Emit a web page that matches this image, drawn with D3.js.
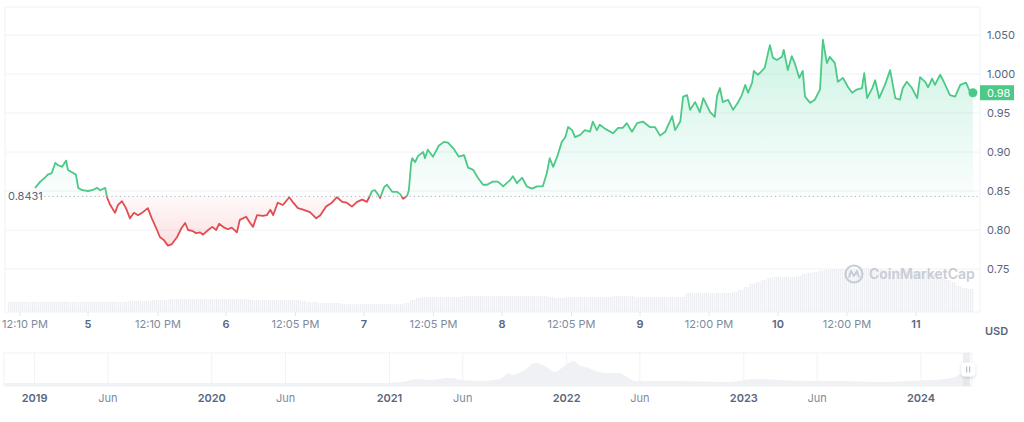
<!DOCTYPE html>
<html>
<head>
<meta charset="utf-8">
<script src="https://cdn.jsdelivr.net/npm/d3@7"></script>
<style>
  html, body { margin: 0; padding: 0; background: #fff; }
  svg { display: block; font-family: Inter, "Noto Sans", sans-serif; }
</style>
</head>
<body>
<svg id="chart" width="1024" height="422"></svg>
<script>
// 基准时间：第 4 天 00:00，价格数据用“距基准的小时数”表示
const baseDate = new Date(2024, 3, 4);
const refPrice = 0.8431;

// 价格 [小时, USD]
const priceSeries = [
  [14.8,0.854],[15.7,0.862],[16.0,0.864],[16.5,0.867],[17.0,0.871],[17.7,0.873],[18.3,0.886],[18.8,0.883],
  [19.5,0.881],[20.2,0.889],[20.5,0.877],[21.2,0.874],[21.9,0.871],[22.3,0.854],[23.0,0.851],[24.0,0.850],
  [24.7,0.851],[25.6,0.854],[26.1,0.851],[27.0,0.854],[27.3,0.842],[27.8,0.833],[28.7,0.822],[29.2,0.832],
  [29.9,0.837],[30.6,0.828],[31.3,0.815],[32.0,0.822],[32.7,0.819],[33.4,0.822],[34.4,0.828],[35.1,0.815],
  [36.0,0.800],[36.5,0.791],[37.2,0.787],[37.9,0.780],[38.6,0.782],[39.5,0.791],[40.3,0.803],[40.9,0.809],
  [41.4,0.800],[42.1,0.799],[42.8,0.796],[43.5,0.797],[44.0,0.794],[44.9,0.800],[45.6,0.804],[46.3,0.800],
  [46.8,0.808],[47.7,0.803],[48.3,0.801],[49.0,0.803],[49.9,0.797],[50.4,0.813],[51.5,0.817],[52.2,0.809],
  [52.7,0.804],[53.4,0.819],[54.4,0.818],[55.1,0.819],[55.7,0.826],[56.2,0.819],[57.0,0.835],[57.9,0.832],
  [59.0,0.842],[59.7,0.835],[60.5,0.828],[61.4,0.826],[62.6,0.823],[63.7,0.815],[64.4,0.819],[65.4,0.830],
  [66.4,0.835],[67.3,0.842],[68.2,0.836],[69.0,0.835],[69.9,0.830],[70.8,0.836],[71.7,0.839],[72.5,0.836],
  [72.9,0.842],[73.4,0.850],[73.9,0.851],[74.4,0.846],[74.8,0.841],[75.5,0.855],[76.0,0.858],[76.9,0.849],
  [77.7,0.849],[78.3,0.846],[78.8,0.840],[79.5,0.844],[79.8,0.851],[80.2,0.886],[80.4,0.892],[80.9,0.887],
  [81.4,0.895],[82.3,0.900],[82.6,0.892],[83.1,0.903],[84.0,0.894],[85.0,0.908],[85.9,0.913],[86.6,0.912],
  [87.5,0.905],[88.5,0.894],[89.4,0.896],[90.1,0.880],[91.0,0.877],[91.8,0.867],[92.7,0.858],[93.4,0.858],
  [94.4,0.862],[95.3,0.862],[96.2,0.856],[97.4,0.864],[97.9,0.869],[98.6,0.860],[99.5,0.867],[100.3,0.856],
  [101.2,0.853],[102.1,0.856],[103.1,0.856],[103.8,0.873],[104.3,0.892],[104.9,0.881],[105.6,0.894],[106.4,0.913],
  [107.0,0.919],[107.5,0.932],[108.2,0.928],[108.7,0.919],[109.6,0.922],[110.4,0.928],[111.3,0.926],[111.8,0.939],
  [112.5,0.928],[113.0,0.935],[113.9,0.930],[115.3,0.924],[116.2,0.931],[117.0,0.931],[117.7,0.937],[118.6,0.926],
  [119.5,0.937],[120.5,0.939],[121.7,0.932],[122.6,0.932],[123.5,0.921],[124.4,0.926],[125.6,0.946],[126.1,0.928],
  [127.0,0.939],[127.5,0.971],[128.2,0.973],[128.7,0.954],[129.6,0.964],[130.4,0.951],[131.0,0.969],[132.2,0.951],
  [133.0,0.945],[133.4,0.972],[133.9,0.982],[134.4,0.964],[135.3,0.967],[136.2,0.954],[137.0,0.963],[137.7,0.973],
  [138.3,0.986],[138.8,0.976],[139.5,0.989],[139.8,1.004],[140.5,0.999],[141.2,1.004],[141.7,1.008],[142.3,1.028],
  [142.6,1.037],[143.1,1.021],[143.8,1.018],[144.7,1.022],[145.0,1.031],[145.7,1.005],[146.4,1.023],[147.0,1.012],
  [147.7,0.995],[148.3,1.004],[148.7,0.971],[149.6,0.963],[150.4,0.967],[151.3,0.980],[151.8,1.044],[152.5,1.014],
  [153.0,1.022],[153.9,1.014],[154.4,0.990],[155.3,0.995],[156.2,0.983],[156.9,0.976],[157.7,0.980],[158.6,0.982],
  [159.0,1.001],[159.5,0.969],[160.4,0.982],[160.9,0.992],[161.6,0.969],[162.6,0.986],[163.5,1.005],[164.4,0.969],
  [165.2,0.967],[165.7,0.982],[166.4,0.990],[167.3,0.982],[168.2,0.969],[168.7,0.996],[169.6,0.990],[170.1,0.983],
  [170.8,0.994],[171.3,0.986],[172.2,0.999],[172.7,0.992],[173.9,0.973],[174.8,0.971],[175.7,0.986],[176.7,0.989],
  [177.4,0.977],[177.9,0.976]
];

// 成交量（每小时一根，从第 10 小时开始，单位 M）
const volumeStartHour = 10;
const volumeHourly = [
  10,10,10,10,10,10,10,10,10,10,10,10,10,10,
  10,10,10,10,10,10,10,11,11,11,11,
  12,12,12,13,13,13,13,13,13,13,13,13,13,
  13,13,13,13,12,12,12,12,12,12,12,12,12,
  11,10,10,9,9,9,9,
  8,8,8,8,8,8,8,8,8,8,8,9,
  12,14,15,15,
  15,15,15,15,15,16,16,16,16,16,16,16,
  16,16,16,16,16,16,16,16,15,14,14,15,
  15,15,15,15,15,15,15,16,16,16,16,15,
  15,15,15,15,15,15,15,15,
  19,19,19,19,19,19,19,19,
  20,22,25,28,30,32,
  34,35,35,35,35,36,38,
  39,40,41,42,43,
  43,43,43,43,43,44,43,43,42,42,
  42,42,42,41,41,41,40,39,
  35,32,30,26,24,23
];

const yTicks = [0.75, 0.80, 0.85, 0.90, 0.95, 1.00, 1.05];
const yTickLabels = ["0.75", "0.80", "0.85", "0.90", "0.95", "1.000", "1.050"];

const xTickHours = [12.167, 24, 36.167, 48, 60.083, 72, 84.083, 96, 108.083, 120, 132, 144, 156, 168];
const xTickLabels = ["12:10 PM", "5", "12:10 PM", "6", "12:05 PM", "7", "12:05 PM", "8", "12:05 PM", "9", "12:00 PM", "10", "12:00 PM", "11"];

// 底部概览（历史）
const navDates = [
  "2018-11-01","2020-12-15","2021-01-28","2021-02-26","2021-03-31","2021-04-29","2021-05-11","2021-05-26",
  "2021-07-12","2021-08-16","2021-09-06","2021-09-10","2021-10-07","2021-10-27","2021-11-17","2021-12-08",
  "2021-12-22","2022-01-05","2022-01-16","2022-01-26","2022-02-16","2022-03-08","2022-03-29","2022-04-19",
  "2022-05-09","2022-05-22","2022-06-11","2022-08-20","2022-12-01","2023-01-03","2023-02-01","2023-03-14",
  "2023-05-21","2023-07-28","2023-10-06","2023-12-13","2024-01-18","2024-02-19","2024-03-11","2024-03-26",
  "2024-04-10"
];
const navValues = [
  3,3,4,7,6,8,8,6,
  5,7,13,11,16,23,20,14,
  18,23,25,21,18,14,13,13,
  8,5,5,5,4,6,7,6,
  5,5,4,5,6,7,9,13,
  14
];
const navTickDates = ["2019-01-01","2019-06-01","2020-01-01","2020-06-01","2021-01-01","2021-06-01","2022-01-01","2022-06-01","2023-01-01","2023-06-01","2024-01-01"];
const navTickLabels = ["2019","Jun","2020","Jun","2021","Jun","2022","Jun","2023","Jun","2024"];

const COLORS = {
  up: "#16c784",
  upLine: "#4cc986",
  down: "#ea3943",
  downLine: "#e24c50",
  grid: "#f0f2f5",
  text: "#58667e",
  textLight: "#808a9d",
  volume: "#eceef2",
  watermark: "#c8cdd5"
};

const hourToDate = h => new Date(baseDate.getTime() + h * 3600e3);

const plot = { left: 5, right: 980, top: 7, bottom: 312 };
const nav = { left: 4, right: 972, top: 353, bottom: 386 };

const svg = d3.select("#chart");
const defs = svg.append("defs");

// 比例尺
const x = d3.scaleTime()
  .domain([hourToDate(9.565), hourToDate(179.13)])
  .range([plot.left, plot.right]);
const y = d3.scaleLinear()
  .domain([0.75, 1.05])
  .range([269, 35]);
const yVol = d3.scaleLinear()
  .domain([0, 50])
  .range([plot.bottom, plot.bottom - 50]);

const baseY = y(refPrice);

// 渐变与裁剪
const gUp = defs.append("linearGradient").attr("id", "gradUp")
  .attr("gradientUnits", "userSpaceOnUse")
  .attr("x1", 0).attr("x2", 0).attr("y1", y(1.05)).attr("y2", baseY);
gUp.append("stop").attr("offset", 0).attr("stop-color", COLORS.up).attr("stop-opacity", 0.22);
gUp.append("stop").attr("offset", 1).attr("stop-color", COLORS.up).attr("stop-opacity", 0.02);

const gDown = defs.append("linearGradient").attr("id", "gradDown")
  .attr("gradientUnits", "userSpaceOnUse")
  .attr("x1", 0).attr("x2", 0).attr("y1", baseY).attr("y2", y(0.775));
gDown.append("stop").attr("offset", 0).attr("stop-color", COLORS.down).attr("stop-opacity", 0.03);
gDown.append("stop").attr("offset", 1).attr("stop-color", COLORS.down).attr("stop-opacity", 0.17);

defs.append("clipPath").attr("id", "clipUp")
  .append("rect").attr("x", 0).attr("y", 0).attr("width", 1024).attr("height", baseY);
defs.append("clipPath").attr("id", "clipDown")
  .append("rect").attr("x", 0).attr("y", baseY).attr("width", 1024).attr("height", 422 - baseY);

const stripe = defs.append("pattern").attr("id", "volStripe")
  .attr("patternUnits", "userSpaceOnUse").attr("width", 2).attr("height", 10);
stripe.append("rect").attr("width", 1.3).attr("height", 10).attr("fill", COLORS.volume);

// 网格与边框
svg.append("g")
  .selectAll("line")
  .data(yTicks)
  .join("line")
  .attr("x1", plot.left).attr("x2", plot.right)
  .attr("y1", d => y(d)).attr("y2", d => y(d))
  .attr("stroke", COLORS.grid);

svg.append("rect")
  .attr("x", plot.left).attr("y", plot.top)
  .attr("width", plot.right - plot.left).attr("height", plot.bottom - plot.top)
  .attr("fill", "none").attr("stroke", COLORS.grid);

// 成交量柱
const step = x(hourToDate(1)) - x(hourToDate(0));
svg.append("g")
  .selectAll("rect")
  .data(volumeHourly)
  .join("rect")
  .attr("x", (d, i) => x(hourToDate(volumeStartHour + i)))
  .attr("width", step)
  .attr("y", d => yVol(d))
  .attr("height", d => plot.bottom - yVol(d))
  .attr("fill", "url(#volStripe)");

// 水印
const wm = svg.append("g").attr("transform", "translate(854,274)");
wm.append("circle").attr("r", 8.5).attr("fill", "none").attr("stroke", COLORS.watermark).attr("stroke-width", 2.2);
wm.append("path")
  .attr("d", "M-5,3.5 L-3,-3 L0,2 L3,-3 L5,3.5")
  .attr("fill", "none").attr("stroke", COLORS.watermark).attr("stroke-width", 2).attr("stroke-linejoin", "round");
svg.append("text")
  .attr("x", 869).attr("y", 279)
  .attr("font-size", 14).attr("font-weight", 600)
  .attr("fill", COLORS.watermark)
  .text("CoinMarketCap");

// 价格面积与折线
const px = d => x(hourToDate(d[0]));
const area = d3.area().x(px).y0(baseY).y1(d => y(d[1]));
const line = d3.line().x(px).y(d => y(d[1]));

svg.append("path").datum(priceSeries).attr("d", area)
  .attr("fill", "url(#gradUp)").attr("clip-path", "url(#clipUp)");
svg.append("path").datum(priceSeries).attr("d", area)
  .attr("fill", "url(#gradDown)").attr("clip-path", "url(#clipDown)");

// 参考价虚线
svg.append("line")
  .attr("x1", 40).attr("x2", plot.right)
  .attr("y1", baseY).attr("y2", baseY)
  .attr("stroke", "#a7b1c2").attr("stroke-width", 1)
  .attr("stroke-dasharray", "1.2,3");
svg.append("text")
  .attr("x", 8).attr("y", baseY).attr("dy", "0.35em")
  .attr("font-size", 11).attr("fill", COLORS.text)
  .text(d3.format(".4f")(refPrice));

svg.append("path").datum(priceSeries).attr("d", line)
  .attr("fill", "none").attr("stroke", COLORS.upLine).attr("stroke-width", 1.8)
  .attr("stroke-linejoin", "round").attr("clip-path", "url(#clipUp)");
svg.append("path").datum(priceSeries).attr("d", line)
  .attr("fill", "none").attr("stroke", COLORS.downLine).attr("stroke-width", 1.8)
  .attr("stroke-linejoin", "round").attr("clip-path", "url(#clipDown)");

const last = priceSeries[priceSeries.length - 1];
svg.append("circle")
  .attr("cx", px(last)).attr("cy", y(last[1])).attr("r", 4.5)
  .attr("fill", COLORS.upLine);

// Y 轴
svg.append("g")
  .selectAll("text")
  .data(yTicks)
  .join("text")
  .attr("x", 987).attr("y", d => y(d)).attr("dy", "0.35em")
  .attr("font-size", 11).attr("fill", COLORS.text)
  .text((d, i) => yTickLabels[i]);

svg.append("rect")
  .attr("x", 980).attr("y", y(last[1]) - 7.5)
  .attr("width", 34).attr("height", 15)
  .attr("fill", COLORS.upLine);
svg.append("text")
  .attr("x", 987).attr("y", y(last[1])).attr("dy", "0.35em")
  .attr("font-size", 11).attr("fill", "#fff")
  .text(d3.format(".2f")(last[1]));

// X 轴（首个标签不超出左边缘）
const xAxis = svg.append("g");
xAxis.selectAll("line")
  .data(xTickHours)
  .join("line")
  .attr("x1", h => x(hourToDate(h))).attr("x2", h => x(hourToDate(h)))
  .attr("y1", plot.bottom).attr("y2", plot.bottom + 4)
  .attr("stroke", "#e3e6eb");
xAxis.selectAll("text")
  .data(xTickHours)
  .join("text")
  .attr("x", h => Math.max(x(hourToDate(h)), 25)).attr("y", 324).attr("dy", "0.35em")
  .attr("text-anchor", "middle")
  .attr("font-size", 11)
  .attr("font-weight", (h, i) => xTickLabels[i].includes("M") ? 400 : 600)
  .attr("fill", (h, i) => xTickLabels[i].includes("M") ? COLORS.textLight : COLORS.text)
  .text((h, i) => xTickLabels[i]);

svg.append("text")
  .attr("x", 985).attr("y", 331).attr("dy", "0.35em")
  .attr("font-size", 11).attr("font-weight", 600).attr("fill", COLORS.text)
  .text("USD");

// 底部概览
const parse = d3.timeParse("%Y-%m-%d");
const xNav = d3.scaleTime()
  .domain([parse("2018-11-01"), parse("2024-04-11")])
  .range([nav.left + 1, nav.right - 2]);
const yNav = d3.scaleLinear().domain([0, 30]).range([nav.bottom, nav.bottom - 30]);

svg.append("rect")
  .attr("x", nav.left).attr("y", nav.top)
  .attr("width", nav.right - nav.left).attr("height", nav.bottom - nav.top)
  .attr("fill", "#fff").attr("stroke", COLORS.grid);

svg.append("g")
  .selectAll("line")
  .data(navTickDates)
  .join("line")
  .attr("x1", d => xNav(parse(d))).attr("x2", d => xNav(parse(d)))
  .attr("y1", nav.top).attr("y2", nav.bottom)
  .attr("stroke", COLORS.grid);

svg.append("path")
  .datum(navDates.map((d, i) => [parse(d), navValues[i]]))
  .attr("d", d3.area().x(d => xNav(d[0])).y0(nav.bottom).y1(d => yNav(d[1])).curve(d3.curveMonotoneX))
  .attr("fill", "#eff1f5");

svg.append("g")
  .selectAll("text")
  .data(navTickDates)
  .join("text")
  .attr("x", d => xNav(parse(d))).attr("y", 398).attr("dy", "0.35em")
  .attr("text-anchor", "middle")
  .attr("font-size", 11)
  .attr("font-weight", (d, i) => navTickLabels[i] === "Jun" ? 400 : 600)
  .attr("fill", (d, i) => navTickLabels[i] === "Jun" ? COLORS.textLight : COLORS.text)
  .text((d, i) => navTickLabels[i]);

// 选择窗口与手柄
const selX0 = xNav(hourToDate(14.8));
const selX1 = xNav(hourToDate(177.9));
svg.append("rect")
  .attr("x", selX0 - 4).attr("y", nav.top)
  .attr("width", selX1 - selX0 + 4).attr("height", nav.bottom - nav.top)
  .attr("fill", "#dfe2e8").attr("opacity", 0.6);

const shadow = defs.append("filter").attr("id", "handleShadow")
  .attr("x", "-50%").attr("y", "-50%").attr("width", "200%").attr("height", "200%");
shadow.append("feDropShadow").attr("dx", 0).attr("dy", 1).attr("stdDeviation", 1.5)
  .attr("flood-color", "#000").attr("flood-opacity", 0.18);

const handle = svg.append("g").attr("transform", `translate(${selX1 - 2},${(nav.top + nav.bottom) / 2})`);
handle.append("rect")
  .attr("x", -7).attr("y", -7).attr("width", 14).attr("height", 14).attr("rx", 4)
  .attr("fill", "#fff").attr("filter", "url(#handleShadow)");
handle.selectAll("line")
  .data([-1.5, 1.5])
  .join("line")
  .attr("x1", d => d).attr("x2", d => d).attr("y1", -3).attr("y2", 3)
  .attr("stroke", "#a6b0c3").attr("stroke-width", 1);
</script>
</body>
</html>
